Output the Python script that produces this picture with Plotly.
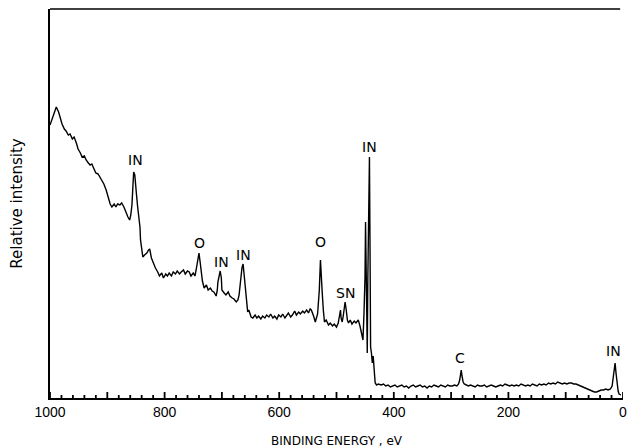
import plotly.graph_objects as go

# Binding energy (eV) and relative intensity (arbitrary units)
energy = [
    1000, 996, 992, 989, 985, 982, 979, 975, 972, 968, 965, 961, 958, 954, 951, 947, 944, 940, 937, 933,
    930, 927, 923, 920, 916, 913, 909, 906, 902, 899, 895, 892, 888, 885, 882, 878, 875, 871, 868, 864,
    861, 859, 857, 856, 854, 852, 850, 849, 847, 845, 843, 842, 840, 838, 835, 831, 828, 826, 823, 819,
    816, 812, 809, 805, 802, 798, 795, 792, 788, 785, 781, 778, 774, 771, 767, 764, 760, 757, 754, 750,
    747, 745, 743, 741, 740, 738, 736, 734, 731, 727, 724, 720, 717, 714, 710, 708, 707, 705, 703, 701,
    700, 696, 693, 689, 686, 682, 679, 675, 672, 670, 669, 667, 665, 663, 662, 660, 658, 656, 655, 653,
    649, 646, 642, 639, 636, 632, 629, 625, 622, 618, 615, 611, 608, 604, 601, 597, 594, 590, 587, 584,
    580, 577, 573, 570, 566, 563, 559, 556, 552, 549, 546, 544, 540, 537, 533, 532, 530, 528, 526, 525,
    523, 521, 518, 514, 511, 507, 504, 500, 497, 495, 493, 492, 490, 488, 486, 485, 483, 481, 479, 476,
    473, 469, 466, 462, 459, 457, 455, 453.8, 452.0, 450.3, 449.3, 448.3, 447.3, 446.3, 445.3, 444.0,
    442.5, 441.5, 440.5, 439.0, 437.5, 436.0, 434.0, 432.5, 430, 427, 422, 418, 414, 410, 406, 402,
    398, 394, 390, 386, 382, 378, 374, 370, 366, 362, 358, 354, 350, 346, 342, 338, 334, 330, 326, 322,
    318, 314, 310, 306, 302, 298, 294, 290, 287, 285, 283.5, 282.3, 281, 279, 277, 274, 270, 266, 262,
    258, 254, 250, 246, 242, 238, 234, 230, 226, 222, 218, 214, 210, 206, 202, 198, 194, 190, 186, 182,
    178, 174, 170, 166, 162, 158, 154, 150, 146, 142, 138, 134, 130, 126, 122, 118, 114, 110, 106, 102,
    98, 94, 90, 86, 82, 78, 74, 70, 66, 62, 58, 54, 50, 46, 42, 38, 34, 30, 26, 22,
    19, 17.3, 15.5, 13.8, 12.2, 10.4, 8.5, 6.9, 5, 3.5,
]
intensity = [
    273, 280, 288, 291, 286, 280, 274, 269, 267, 263, 264, 259, 261, 255, 249, 245, 241, 242, 238, 235,
    233, 234, 228, 225, 224, 221, 218, 214, 208, 202, 194, 191, 194, 191, 194, 193, 195, 191, 186, 181,
    178, 183, 193, 210, 226, 223, 213, 203, 191, 183, 171, 158, 146, 141, 143, 145, 148, 149, 140, 134,
    130, 126, 122, 125, 120, 124, 122, 125, 122, 126, 124, 127, 124, 126, 128, 124, 127, 126, 122, 125,
    122, 128, 134, 140, 145, 136, 124, 117, 110, 113, 108, 110, 107, 106, 102, 108, 116, 123, 127, 120,
    108, 105, 103, 106, 102, 100, 99, 96, 98, 103, 110, 120, 130, 134, 128, 116, 106, 92, 86, 88,
    81, 80, 83, 80, 82, 79, 82, 80, 83, 81, 84, 80, 82, 79, 83, 81, 84, 80, 82, 85,
    81, 83, 87, 83, 86, 84, 87, 85, 88, 85, 89, 88, 82, 76, 84, 92, 108, 138, 123, 106,
    88, 76, 78, 73, 75, 72, 74, 71, 75, 82, 88, 80, 76, 83, 90, 96, 88, 78, 75, 78,
    74, 77, 75, 78, 72, 66, 62, 58, 85, 120, 176, 120, 101, 45, 120, 200,
    241, 150, 51, 45, 35, 42, 22, 15, 13, 14, 13, 14, 12, 13, 11, 12,
    13, 11, 12, 13, 11, 12, 10, 12, 13, 11, 12, 13, 11, 12, 10, 12, 11, 13, 12, 11,
    13, 12, 11, 13, 12, 12, 13, 12, 14, 18, 26, 28, 22, 16, 14, 13, 12, 13, 12,
    11, 13, 12, 12, 13, 11, 12, 13, 12, 11, 12, 13, 12, 14, 13, 12, 13, 12, 13, 12,
    14, 13, 12, 13, 12, 14, 13, 12, 14, 13, 14, 13, 15, 14, 15, 14, 16, 15, 14, 15,
    14, 15, 15, 14, 14, 13, 12, 11, 10, 9, 8, 7, 6, 6, 7, 8, 8, 9, 8, 9,
    12, 20, 30, 35, 25, 13, 7, 4, 3, 3,
]

# Peak labels
label_text = ["IN", "O", "IN", "IN", "O", "SN", "IN", "C", "IN"]
label_energy = [850, 739, 701, 663, 528, 485, 442, 284, 17]
label_intensity = [238, 155, 136, 143, 156, 105, 251, 40, 47]

tick_values = [0, 100, 200, 300, 400, 500, 600, 700, 800, 900, 1000]
tick_text = ["0", "", "200", "", "400", "", "600", "", "800", "", "1000"]
minor_tick_values = [v for v in range(0, 1001, 20) if v % 100 != 0]

FONT = "Liberation Sans"
TFONT = "DejaVu Sans"
Y_MAX = 389  # one intensity unit per pixel of plot height
MAJOR_LEN = 6
MINOR_LEN = 3

fig = go.Figure()
fig.add_trace(go.Scatter(
    x=energy, y=intensity, mode="lines",
    line=dict(color="black", width=1.4),
    hoverinfo="skip", showlegend=False,
))

# inward tick marks drawn as a line trace from the tick-value arrays
tx, ty = [], []
for v in tick_values:
    tx += [v, v, None]
    ty += [0, MAJOR_LEN, None]
for v in minor_tick_values:
    tx += [v, v, None]
    ty += [0, MINOR_LEN, None]
fig.add_trace(go.Scatter(
    x=tx, y=ty, mode="lines", connectgaps=False,
    line=dict(color="black", width=1.8),
    hoverinfo="skip", showlegend=False,
))

for t, e, i in zip(label_text, label_energy, label_intensity):
    fig.add_annotation(x=e, y=i, text=t, showarrow=False,
                       font=dict(family=TFONT, size=14, color="black"),
                       xanchor="center", yanchor="middle")

# top frame line
fig.add_shape(type="line", xref="paper", yref="paper", x0=0, x1=0.995, y0=1, y1=1,
              line=dict(color="black", width=1.5))

fig.update_layout(
    width=627, height=448,
    margin=dict(l=50, r=0, t=9, b=50),
    paper_bgcolor="white", plot_bgcolor="white",
    font=dict(family=FONT, color="black"),
    showlegend=False,
    xaxis=dict(
        range=[1000, 0], autorange=False,
        tickmode="array", tickvals=tick_values, ticktext=tick_text,
        ticks="", ticklabeloverflow="allow",
        showline=True, linecolor="black", linewidth=1.5,
        showgrid=False, zeroline=False,
        tickfont=dict(family=FONT, size=14, color="black"),
        title=dict(text="BINDING ENERGY , eV", font=dict(family=TFONT, size=12, color="black"), standoff=18),
    ),
    yaxis=dict(
        range=[0, Y_MAX], autorange=False,
        showticklabels=False, ticks="",
        showline=True, linecolor="black", linewidth=1.5,
        showgrid=False, zeroline=False,
        title=dict(text="Relative intensity", font=dict(family=TFONT, size=15, color="black"), standoff=22),
    ),
)

fig.write_html("out.html")
